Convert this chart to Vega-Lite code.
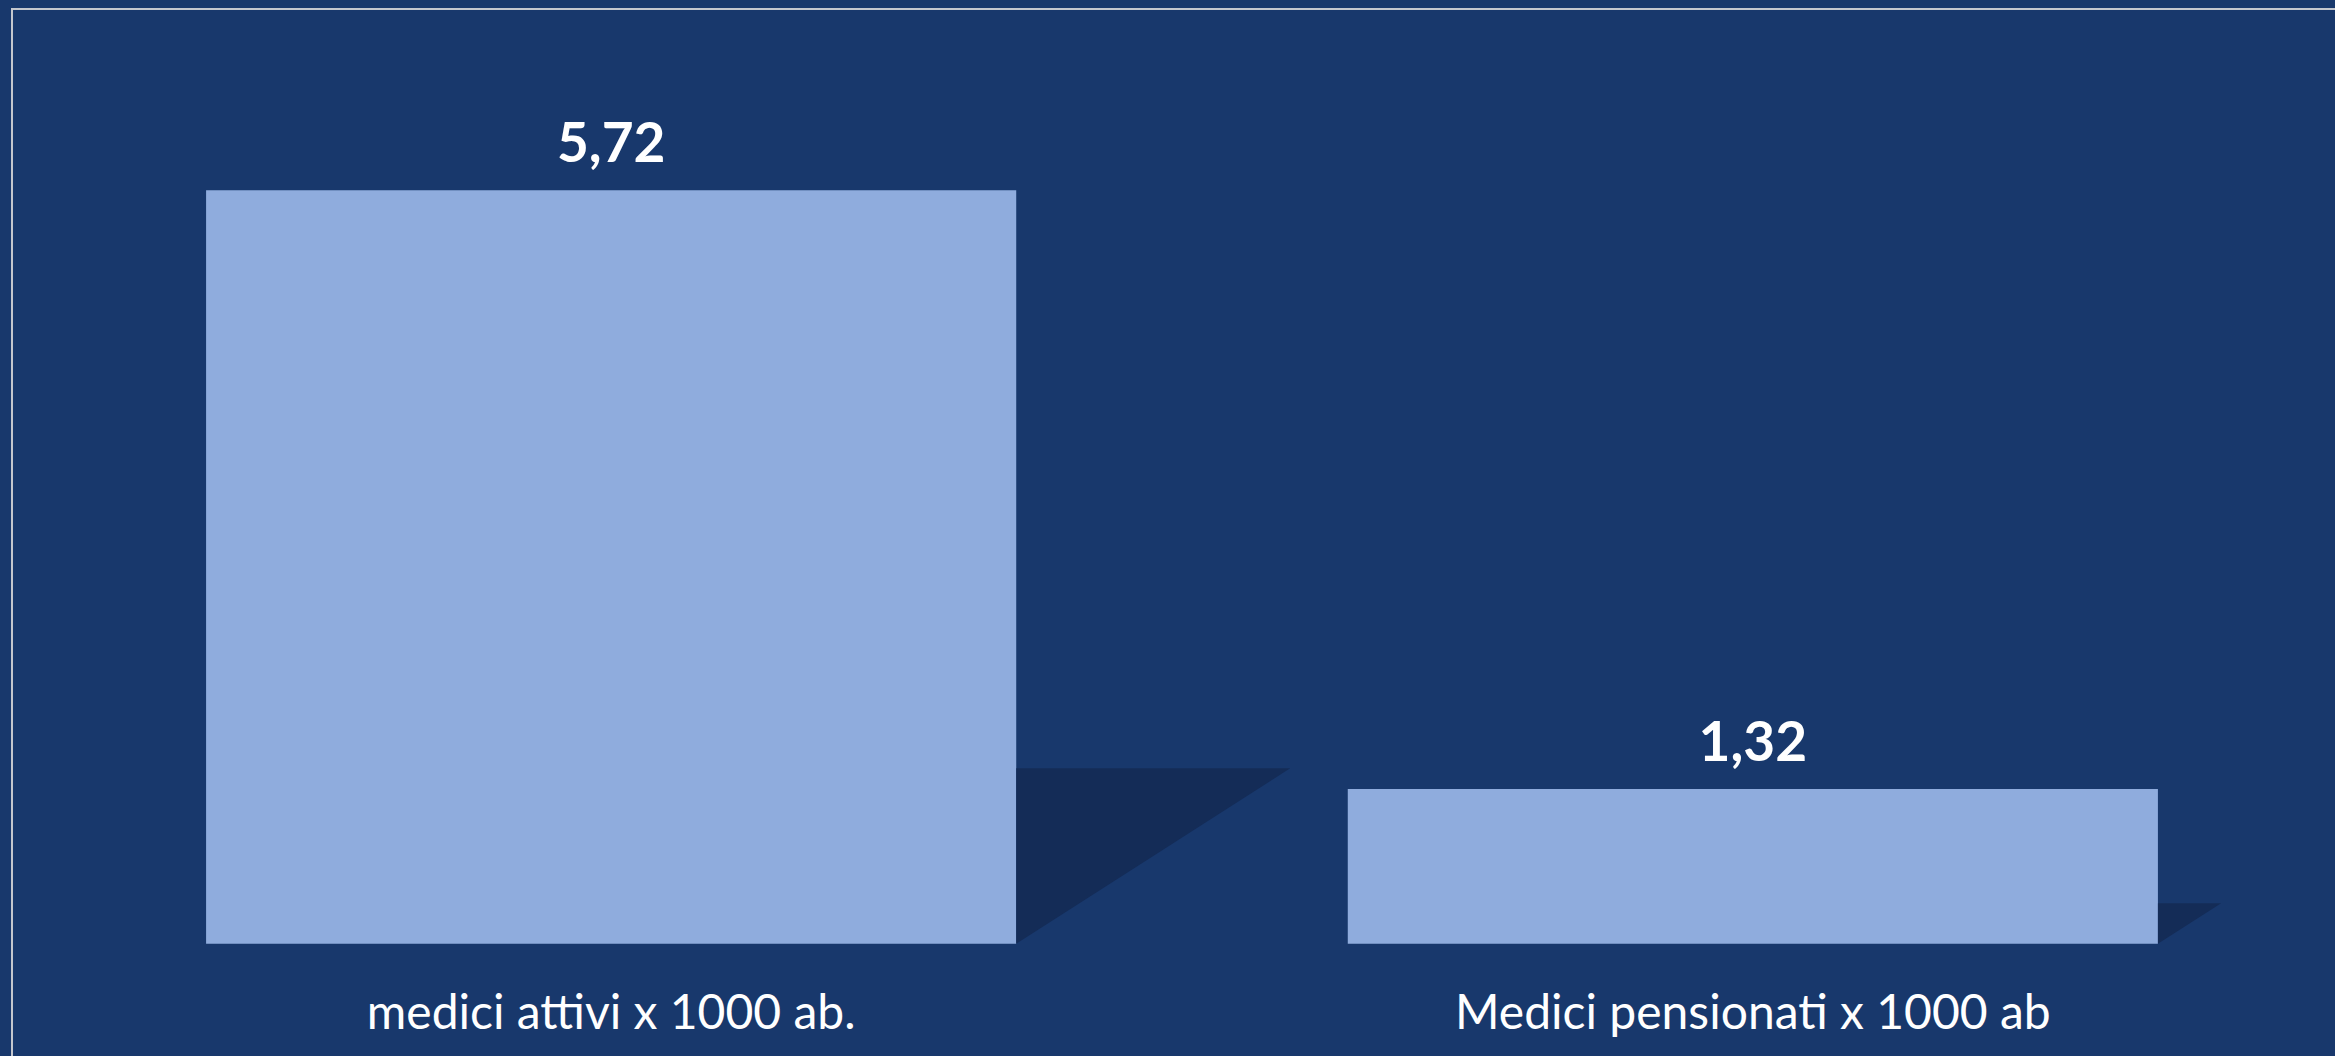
{
  "$schema": "https://vega.github.io/schema/vega-lite/v6.json",
  "autosize": {"type": "none"},
  "width": 2340,
  "height": 1060,
  "padding": {"left": 12, "top": 9, "right": -17, "bottom": -13},
  "background": "#18386C",
  "config": {
    "view": {"stroke": "#C4C7CE", "strokeWidth": 2}
  },
  "data": {
    "values": [
      {"categoria": "medici attivi x 1000 ab.", "valore": 5.72, "etichetta": "5,72"},
      {"categoria": "Medici pensionati x 1000 ab", "valore": 1.32, "etichetta": "1,32"}
    ]
  },
  "layer": [
    {
      "mark": {"type": "bar", "color": "#8FACDD"},
      "encoding": {
        "x": {"field": "categoria", "type": "nominal", "sort": null,
              "scale": {"type": "band", "paddingInner": 0.2904, "paddingOuter": 0.17},
              "axis": {"title": null, "orient": "bottom", "domain": false, "ticks": false, "tickSize": 0,
                       "offset": -125.3, "labelPadding": 84.3, "labelBaseline": "alphabetic", "labelAngle": 0, "labelLimit": 0,
                       "labelFont": "Lato", "labelFontSize": 48, "labelColor": "#FFFFFF", "labelFontWeight": "normal"}},
        "y": {"field": "valore", "type": "quantitative",
              "scale": {"domain": [-0.737, 7.052], "nice": false, "zero": false}, "axis": null},
        "y2": {"datum": 0.184}
      }
    },
    {
      "mark": {"type": "text", "font": "Lato", "fontWeight": "bold", "fontSize": 55, "color": "#FFFFFF",
               "baseline": "alphabetic", "align": "center", "dy": -28},
      "encoding": {
        "x": {"field": "categoria", "type": "nominal", "sort": null},
        "y": {"field": "valore", "type": "quantitative"},
        "text": {"field": "etichetta", "type": "nominal"}
      }
    },
    {
      "mark": {"type": "point", "shape": "M0,0 L0,-0.64 L1,-0.64 Z", "filled": true, "fill": "#142C57", "opacity": 1, "strokeWidth": 0},
      "encoding": {
        "x": {"field": "categoria", "type": "nominal", "sort": null, "bandPosition": 1},
        "y": {"datum": 0.184},
        "size": {"field": "valore", "type": "quantitative", "legend": null,
                 "scale": {"type": "pow", "exponent": 2, "domain": [0, 5.72], "range": [0, 300304]}}
      }
    }
  ]
}
